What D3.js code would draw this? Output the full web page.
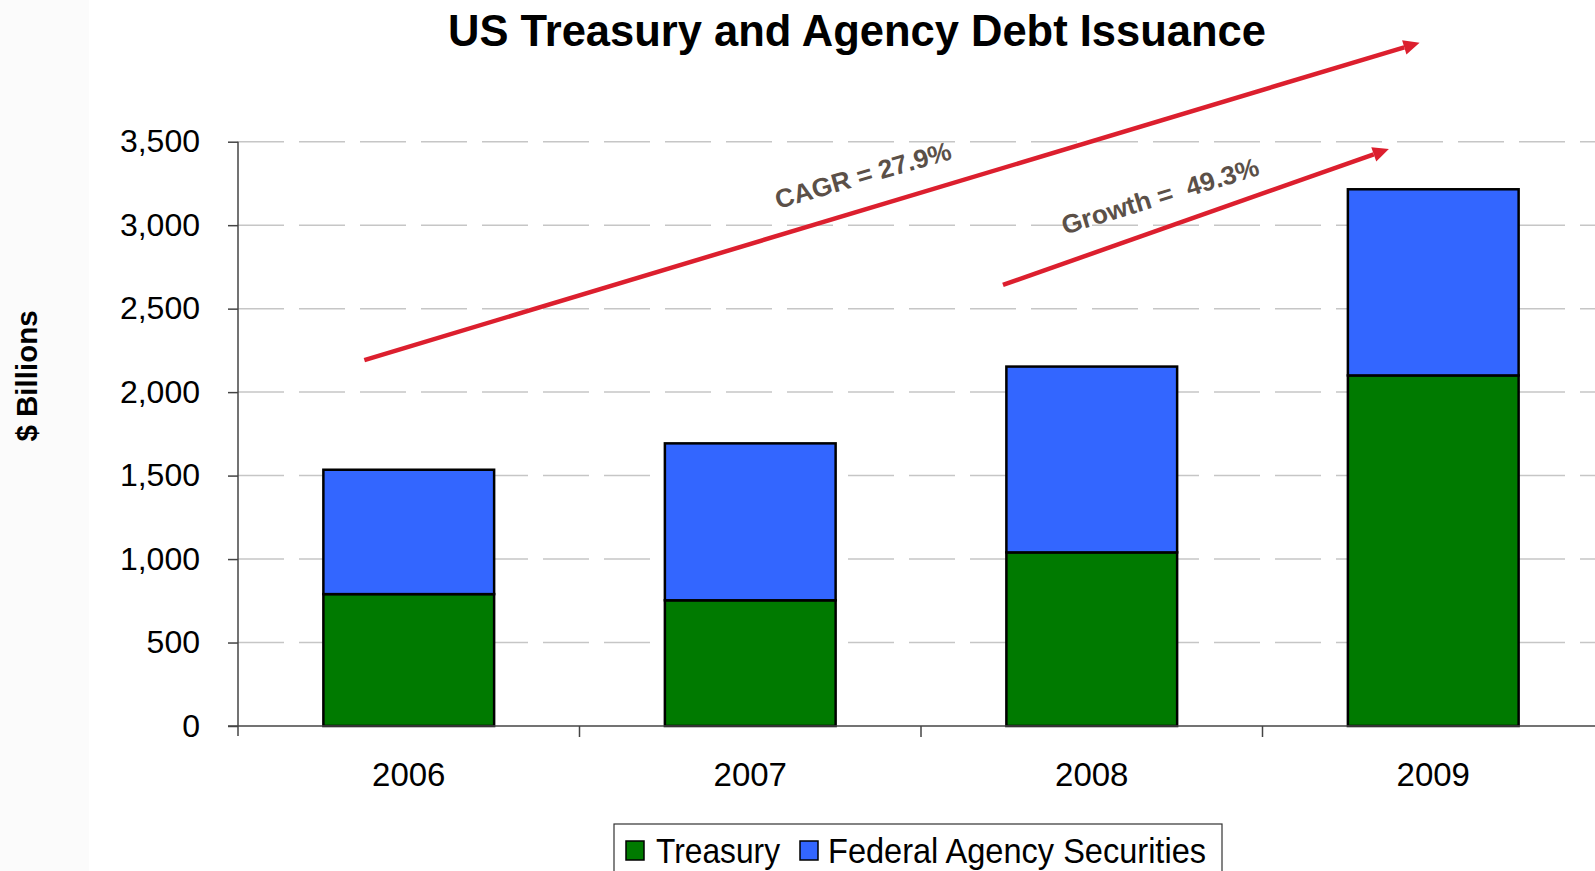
<!DOCTYPE html>
<html>
<head>
<meta charset="utf-8">
<script src="https://cdn.jsdelivr.net/npm/d3@7"></script>
<style>
  html, body { margin: 0; padding: 0; background: #ffffff; }
  svg { display: block; }
  text { font-family: "Liberation Sans", Arial, sans-serif; }
</style>
</head>
<body>
<svg id="chart" width="1595" height="871"></svg>
<script>
// Issuance by year, $ billions
const years = ["2006", "2007", "2008", "2009"];
const treasury = [790, 753, 1040, 2100];
const agency = [745, 940, 1113, 1115];
const seriesNames = ["Treasury", "Federal Agency Securities"];
const yTicks = [0, 500, 1000, 1500, 2000, 2500, 3000, 3500];
const annotationLabels = ["CAGR = 27.9%", "Growth =  49.3%"];

const colors = { "Treasury": "#007a00", "Federal Agency Securities": "#3366ff" };
const arrowRed = "#dc1f2e";
const noteGrey = "#5b5048";

const W = 1595, H = 871;
const svg = d3.select("#chart");

// faint strip down the left edge
svg.append("rect").attr("x", 0).attr("y", 0).attr("width", 89).attr("height", H).attr("fill", "#fbfbfb");

const x = d3.scaleBand().domain(years).range([238, 1604]).paddingInner(0.5).paddingOuter(0.25);
const y = d3.scaleLinear().domain([0, 3500]).range([726, 141.7]);
const bw = x.bandwidth();
// continuous position along the category axis (0 = first bar centre)
const xi = d3.scaleLinear().domain([0, years.length - 1])
  .range([x(years[0]) + bw / 2, x(years[years.length - 1]) + bw / 2]);

// Title
svg.append("text")
  .attr("x", 857).attr("y", 46)
  .attr("text-anchor", "middle")
  .attr("font-size", 43.5).attr("font-weight", "bold")
  .attr("fill", "#000")
  .text("US Treasury and Agency Debt Issuance");

// Dashed gridlines
svg.append("g").selectAll("line")
  .data(yTicks.filter(t => t > 0))
  .join("line")
  .attr("x1", 238).attr("x2", W)
  .attr("y1", d => y(d)).attr("y2", d => y(d))
  .attr("stroke", "#c6c6c6").attr("stroke-width", 1.5)
  .attr("stroke-dasharray", "46 15");

// Y axis
const yAxis = d3.axisLeft(y).tickValues(yTicks).tickSize(10).tickPadding(28)
  .tickFormat(d3.format(","));
const gy = svg.append("g").attr("transform", "translate(238,0)").call(yAxis);
gy.select(".domain").remove();
gy.selectAll(".tick line").attr("stroke", "#444").attr("stroke-width", 1.5);
gy.selectAll(".tick text").attr("font-size", 32).attr("fill", "#000")
  .attr("font-family", "'Liberation Sans', Arial, sans-serif");
svg.append("line").attr("x1", 238).attr("x2", 238).attr("y1", y(3500)).attr("y2", y(0) + 10)
  .attr("stroke", "#444").attr("stroke-width", 1.5);

// Y axis title
svg.append("text")
  .attr("transform", "translate(37,376) rotate(-90)")
  .attr("text-anchor", "middle")
  .attr("font-size", 29.5).attr("font-weight", "bold")
  .attr("fill", "#000")
  .text("$ Billions");

// Stacked bars
const rows = years.map((yr, i) => ({ year: yr, Treasury: treasury[i], "Federal Agency Securities": agency[i] }));
const stacked = d3.stack().keys(seriesNames)(rows);
svg.append("g").selectAll("g")
  .data(stacked)
  .join("g")
  .attr("fill", d => colors[d.key])
  .selectAll("rect")
  .data(d => d)
  .join("rect")
  .attr("x", d => x(d.data.year))
  .attr("width", bw)
  .attr("y", d => y(d[1]))
  .attr("height", d => y(d[0]) - y(d[1]))
  .attr("stroke", "#000").attr("stroke-width", 2.5);

// X axis: baseline, category boundary ticks and labels
svg.append("line").attr("x1", 228).attr("x2", W).attr("y1", y(0)).attr("y2", y(0))
  .attr("stroke", "#444").attr("stroke-width", 1.5);
svg.append("g").selectAll("line")
  .data(years.slice(1))
  .join("line")
  .attr("x1", d => x(d) - (x.step() - bw) / 2)
  .attr("x2", d => x(d) - (x.step() - bw) / 2)
  .attr("y1", y(0)).attr("y2", y(0) + 11)
  .attr("stroke", "#444").attr("stroke-width", 1.5);
svg.append("g").selectAll("text")
  .data(years)
  .join("text")
  .attr("x", d => x(d) + bw / 2)
  .attr("y", 786)
  .attr("text-anchor", "middle")
  .attr("font-size", 33)
  .attr("fill", "#000")
  .text(d => d);

// Growth arrows
function arrow(i0, v0, i1, v1) {
  const xa = xi(i0), ya = y(v0), xb = xi(i1), yb = y(v1);
  const ang = Math.atan2(yb - ya, xb - xa);
  const L = 16, Wd = 7.5;
  const bx = xb - L * Math.cos(ang), by = yb - L * Math.sin(ang);
  svg.append("line")
    .attr("x1", xa).attr("y1", ya).attr("x2", bx).attr("y2", by)
    .attr("stroke", arrowRed).attr("stroke-width", 4.5);
  const nx = -Math.sin(ang), ny = Math.cos(ang);
  svg.append("path")
    .attr("d", `M${xb},${yb}L${bx + nx * Wd},${by + ny * Wd}L${bx - nx * Wd},${by - ny * Wd}Z`)
    .attr("fill", arrowRed);
}
arrow(-0.13, 2192, 2.96, 4093);
arrow(1.74, 2642, 2.87, 3456);

function note(label, i, v, angle, len) {
  svg.append("text")
    .attr("transform", `translate(${xi(i)},${y(v)}) rotate(${angle})`)
    .attr("text-anchor", "middle")
    .attr("dy", "0.35em")
    .attr("font-family", "Lato, 'Open Sans', sans-serif")
    .attr("font-weight", 700)
    .attr("font-size", 26)
    .attr("fill", noteGrey)
    .attr("textLength", len)
    .attr("lengthAdjust", "spacingAndGlyphs")
    .style("white-space", "pre")
    .text(label);
}
note(annotationLabels[0], 1.33, 3300, -16, 182);
note(annotationLabels[1], 2.2, 3175, -17, 205);

// Legend
const lg = svg.append("g");
lg.append("rect").attr("x", 614).attr("y", 824).attr("width", 608).attr("height", 60)
  .attr("fill", "#fff").attr("stroke", "#333").attr("stroke-width", 1.2);
const legendItems = [
  { name: seriesNames[0], sx: 626, tx: 656, len: 124 },
  { name: seriesNames[1], sx: 800, tx: 828, len: 378 }
];
legendItems.forEach(it => {
  lg.append("rect").attr("x", it.sx).attr("y", 841).attr("width", 18).attr("height", 19)
    .attr("fill", colors[it.name]).attr("stroke", "#000").attr("stroke-width", 1.5);
  lg.append("text").attr("x", it.tx).attr("y", 862.5)
    .attr("font-size", 35).attr("fill", "#000")
    .attr("textLength", it.len).attr("lengthAdjust", "spacingAndGlyphs")
    .text(it.name);
});
</script>
</body>
</html>
